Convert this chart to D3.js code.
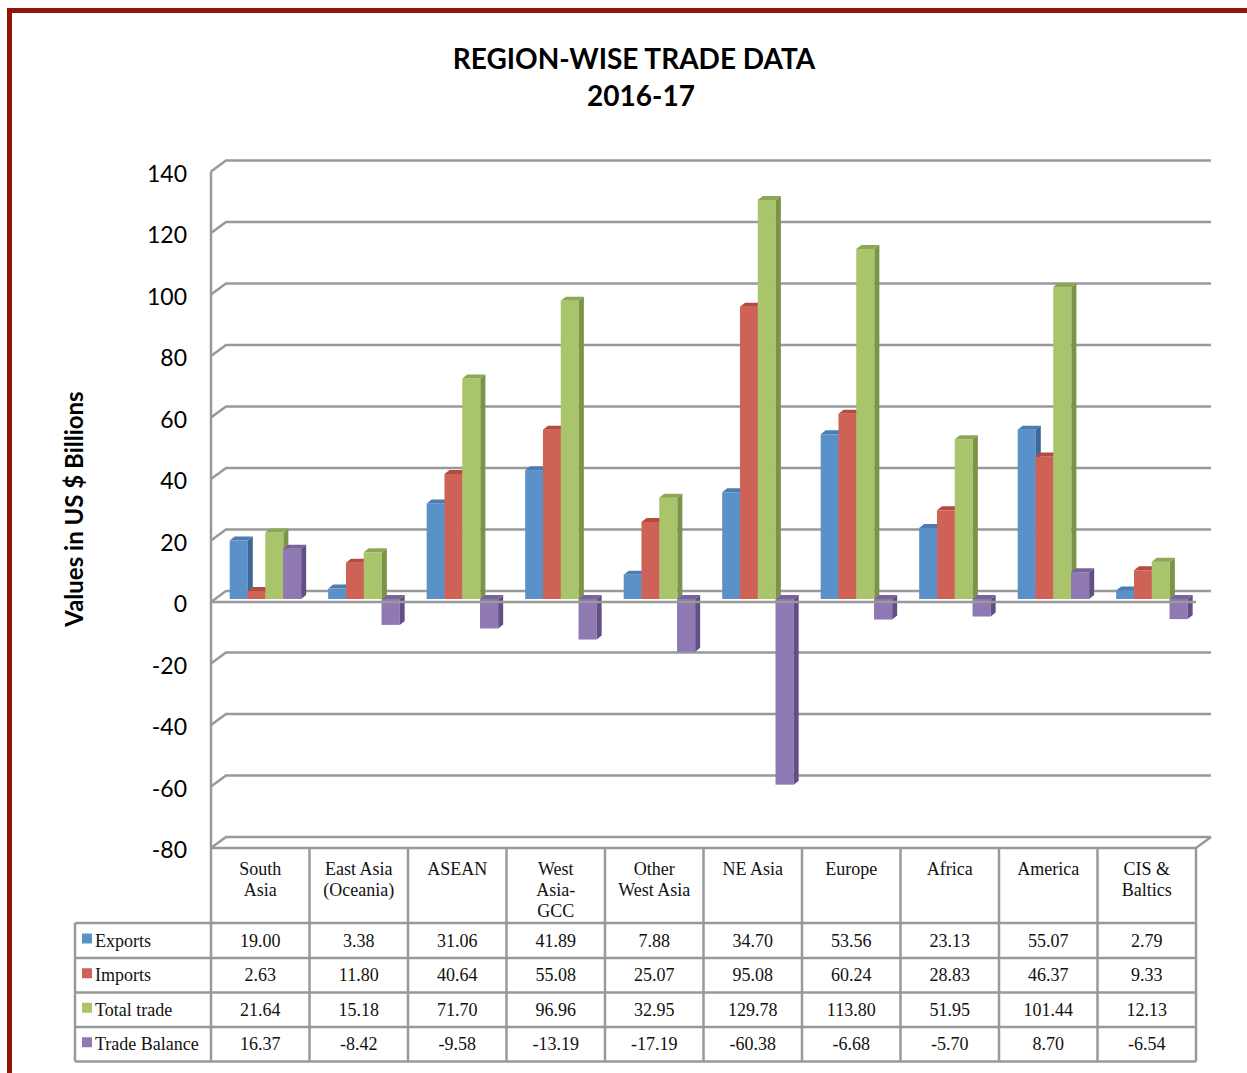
<!DOCTYPE html>
<html>
<head>
<meta charset="utf-8">
<script src="https://cdn.jsdelivr.net/npm/d3@7"></script>
<style>
  body { margin: 0; background: #fff; }
  svg { display: block; }
  .ytick { font-family: Lato, "Open Sans", sans-serif; font-size: 23px; fill: #000; }
  .cell { font-family: "Liberation Serif", "Times New Roman", serif; font-size: 18px; fill: #111; }
</style>
</head>
<body>
<svg id="chart"></svg>
<script>
// data
const regions = ['South Asia', 'East Asia (Oceania)', 'ASEAN', 'West Asia-GCC', 'Other West Asia',
                 'NE Asia', 'Europe', 'Africa', 'America', 'CIS & Baltics'];
const regionLines = [['South', 'Asia'], ['East Asia', '(Oceania)'], ['ASEAN'], ['West', 'Asia-', 'GCC'],
                     ['Other', 'West Asia'], ['NE Asia'], ['Europe'], ['Africa'], ['America'], ['CIS &', 'Baltics']];
const seriesNames = ['Exports', 'Imports', 'Total trade', 'Trade Balance'];
const exportsVals = [19.00, 3.38, 31.06, 41.89, 7.88, 34.70, 53.56, 23.13, 55.07, 2.79];
const importsVals = [2.63, 11.80, 40.64, 55.08, 25.07, 95.08, 60.24, 28.83, 46.37, 9.33];
const totalVals = [21.64, 15.18, 71.70, 96.96, 32.95, 129.78, 113.80, 51.95, 101.44, 12.13];
const balanceVals = [16.37, -8.42, -9.58, -13.19, -17.19, -60.38, -6.68, -5.70, 8.70, -6.54];
const yTicks = [140, 120, 100, 80, 60, 40, 20, 0, -20, -40, -60, -80];

class TradeChart {

  constructor(_config) {
    this.config = {
      parentElement: _config.parentElement,
      containerWidth: _config.containerWidth || 1247,
      containerHeight: _config.containerHeight || 1073
    };
    this.initVis();
  }

  initVis() {
    let vis = this;

    vis.svg = d3.select(vis.config.parentElement)
        .attr('width', vis.config.containerWidth)
        .attr('height', vis.config.containerHeight);

    // front plane of the 3d box
    vis.left = 211;
    vis.right = 1196;
    // depth of the walls and of the bars
    vis.wall = {dx: 15, dy: -11};
    vis.barShift = {dx: 5, dy: -3};
    vis.barDepth = {dx: 5, dy: -4};

    vis.xScale = d3.scaleBand()
        .domain(regions)
        .range([vis.left, vis.right]);

    vis.yScale = d3.scaleLinear()
        .domain([-80, 140])
        .range([848, 171.5]);

    vis.colors = {
      'Exports':       {face: '#5a91c9', top: '#4b7cb2', side: '#3e6896'},
      'Imports':       {face: '#cf6256', top: '#b34b40', side: '#a4463d'},
      'Total trade':   {face: '#aac46c', top: '#8ca854', side: '#7b9447'},
      'Trade Balance': {face: '#8f79b2', top: '#78639c', side: '#634f86'}
    };

    vis.series = [exportsVals, importsVals, totalVals, balanceVals];

    vis.gridColor = '#999999';
    vis.renderVis();
  }

  renderVis() {
    let vis = this;
    const x = vis.xScale, y = vis.yScale, w = vis.wall;
    const back = v => y(v) + w.dy;

    // outer frame
    vis.svg.append('rect')
        .attr('x', 9.5).attr('y', 10.5)
        .attr('width', 1300).attr('height', 1200)
        .attr('fill', 'none')
        .attr('stroke', '#921509')
        .attr('stroke-width', 5);

    // title
    vis.svg.append('text')
        .attr('x', 634).attr('y', 69)
        .attr('text-anchor', 'middle')
        .style('font-family', 'Lato, sans-serif')
        .style('font-weight', 'bold')
        .style('font-size', '28px')
        .text('REGION-WISE TRADE DATA');
    vis.svg.append('text')
        .attr('x', 641).attr('y', 106)
        .attr('text-anchor', 'middle')
        .style('font-family', 'Lato, sans-serif')
        .style('font-weight', 'bold')
        .style('font-size', '28px')
        .text('2016-17');

    // y axis title
    vis.svg.append('text')
        .attr('transform', 'translate(83,509) rotate(-90)')
        .attr('text-anchor', 'middle')
        .style('font-family', 'Lato, sans-serif')
        .style('font-weight', 'bold')
        .style('font-size', '24px')
        .text('Values in US $ Billions');

    const grid = vis.svg.append('g')
        .attr('stroke', vis.gridColor)
        .attr('stroke-width', 2.5)
        .attr('fill', 'none');

    // back wall gridlines with their side-wall diagonals
    yTicks.forEach(t => {
      grid.append('path')
          .attr('d', `M${vis.left},${y(t)}L${vis.left + w.dx},${back(t)}H${vis.right + w.dx}`);
    });
    // left axis line
    grid.append('line')
        .attr('x1', vis.left).attr('x2', vis.left)
        .attr('y1', y(140)).attr('y2', y(-80));
    // floor right edge
    grid.append('line')
        .attr('x1', vis.right).attr('y1', y(-80))
        .attr('x2', vis.right + w.dx).attr('y2', back(-80));

    // y tick labels
    vis.svg.append('g').selectAll('text')
        .data(yTicks)
      .join('text')
        .attr('class', 'ytick')
        .attr('x', 187)
        .attr('y', d => y(d) + 10)
        .attr('text-anchor', 'end')
        .text(d => d);

    // bars
    const inner = d3.scaleBand()
        .domain(seriesNames)
        .range([0, x.bandwidth()])
        .paddingOuter(0.77);
    const bw = inner.bandwidth() + 0.35;
    const bars = [];
    regions.forEach((r, i) => {
      seriesNames.forEach((s, j) => {
        bars.push({region: r, series: s, value: vis.series[j][i]});
      });
    });

    const bd = vis.barDepth, bs = vis.barShift;
    vis.svg.append('g').selectAll('g')
        .data(bars)
      .join('g')
        .each(function(d) {
          const g = d3.select(this);
          const c = vis.colors[d.series];
          const x0 = x(d.region) + inner(d.series) + bs.dx;
          const x1 = x0 + bw;
          const yt = y(Math.max(d.value, 0)) + bs.dy;
          const yb = y(Math.min(d.value, 0)) + bs.dy;
          g.append('rect')
              .attr('x', x0).attr('y', yt)
              .attr('width', bw).attr('height', yb - yt)
              .attr('fill', c.face);
          g.append('path')
              .attr('d', `M${x0},${yt}L${x0 + bd.dx},${yt + bd.dy}H${x1 + bd.dx}L${x1},${yt}Z`)
              .attr('fill', c.top);
          g.append('path')
              .attr('d', `M${x1},${yt}L${x1 + bd.dx},${yt + bd.dy}V${yb + bd.dy}L${x1},${yb}Z`)
              .attr('fill', c.side);
        });

    // front zero line sits in front of the bars
    vis.svg.append('line')
        .attr('x1', vis.left).attr('x2', vis.right)
        .attr('y1', y(0)).attr('y2', y(0))
        .attr('stroke', vis.gridColor)
        .attr('stroke-width', 2.5);

    // data table
    const rowTops = [923, 958, 992.5, 1027, 1061.5];
    const headTop = y(-80);
    const tableLeft = 75;
    const table = vis.svg.append('g');
    const tl = table.append('g')
        .attr('stroke', vis.gridColor)
        .attr('stroke-width', 2.5);

    tl.append('line')
        .attr('x1', vis.left).attr('x2', vis.right)
        .attr('y1', headTop).attr('y2', headTop);
    rowTops.forEach(ry => {
      tl.append('line')
          .attr('x1', tableLeft).attr('x2', vis.right)
          .attr('y1', ry).attr('y2', ry);
    });
    tl.append('line')
        .attr('x1', tableLeft).attr('x2', tableLeft)
        .attr('y1', rowTops[0]).attr('y2', rowTops[4]);
    regions.forEach(r => {
      tl.append('line')
          .attr('x1', x(r)).attr('x2', x(r))
          .attr('y1', headTop).attr('y2', rowTops[4]);
    });
    tl.append('line')
        .attr('x1', vis.right).attr('x2', vis.right)
        .attr('y1', headTop).attr('y2', rowTops[4]);

    // header labels
    regions.forEach((r, i) => {
      const t = table.append('text')
          .attr('class', 'cell')
          .attr('text-anchor', 'middle');
      regionLines[i].forEach((line, k) => {
        t.append('tspan')
            .attr('x', x(r) + x.bandwidth() / 2)
            .attr('y', 875 + k * 21)
            .text(line);
      });
    });

    // rows
    seriesNames.forEach((s, j) => {
      const cy = (rowTops[j] + rowTops[j + 1]) / 2;
      table.append('rect')
          .attr('x', 82).attr('y', cy - 7)
          .attr('width', 10).attr('height', 10)
          .attr('fill', vis.colors[s].face);
      table.append('text')
          .attr('class', 'cell')
          .attr('x', 95).attr('y', cy + 6)
          .text(s);
      regions.forEach((r, i) => {
        table.append('text')
            .attr('class', 'cell')
            .attr('x', x(r) + x.bandwidth() / 2)
            .attr('y', cy + 6)
            .attr('text-anchor', 'middle')
            .text(vis.series[j][i].toFixed(2));
      });
    });
  }
}

new TradeChart({parentElement: '#chart'});
</script>
</body>
</html>
